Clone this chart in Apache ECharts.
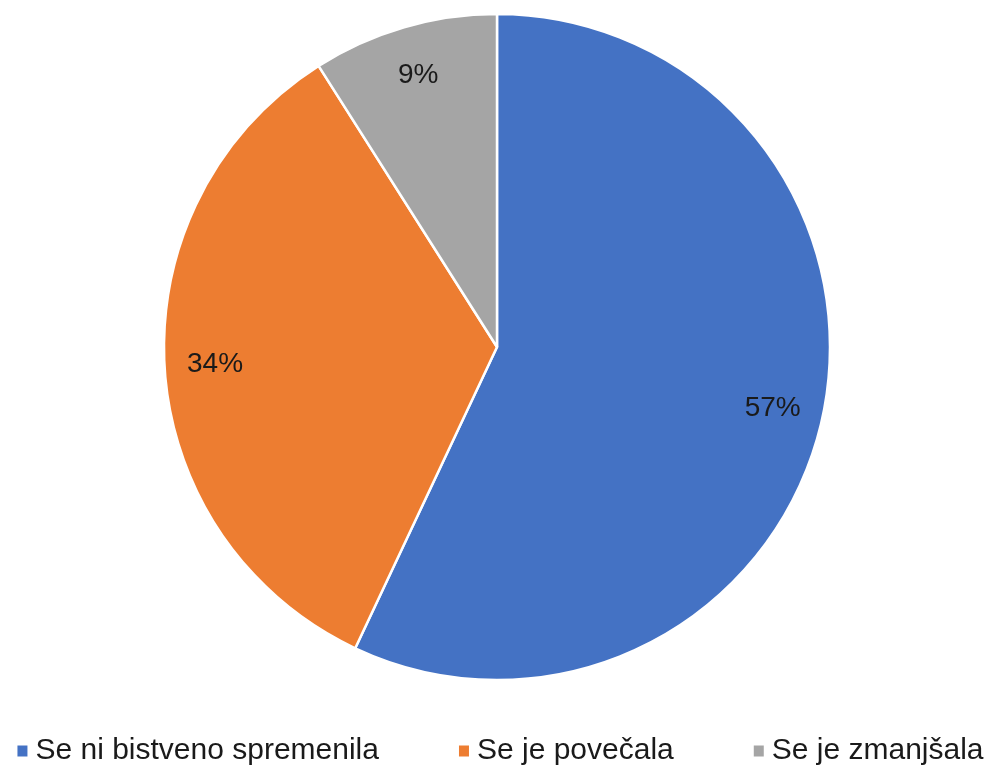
<!DOCTYPE html>
<html><head><meta charset="utf-8">
<script src="https://cdn.jsdelivr.net/npm/echarts@6/dist/echarts.min.js"></script>
<style>html,body{margin:0;padding:0;background:#fff}#c{width:999px;height:767px}</style>
</head><body><div id="c"></div>
<script>
const categories = ['Se ni bistveno spremenila', 'Se je povečala', 'Se je zmanjšala'];
const values = [57, 34, 9];
const colors = ['#4472C4', '#ED7D31', '#A5A5A5'];
const font = '"Liberation Sans", Arial, sans-serif';
const chart = echarts.init(document.getElementById('c'));
const data = categories.map((n, i) => ({ name: n, value: values[i] }));
chart.setOption({
  animation: false,
  color: colors,
  legend: {
    top: 731, left: 'center', itemWidth: 12, itemHeight: 13, itemGap: 78, icon: 'rect',
    textStyle: { fontFamily: font, fontSize: 30, color: '#1a1a1a', padding: [0, 0, 0, 2] },
    data: categories
  },
  series: [{
    type: 'pie', center: [497, 347], radius: [0, 333], startAngle: 90, clockwise: true,
    data: data,
    itemStyle: { borderColor: '#fff', borderWidth: 2.5 },
    label: { show: false }, labelLine: { show: false }
  }, {
    type: 'pie', center: [497, 347], radius: [226, 333], startAngle: 90, clockwise: true,
    data: data, silent: true,
    itemStyle: { color: 'transparent' },
    label: { show: true, position: 'inside', formatter: '{d}%', fontFamily: font, fontSize: 28, color: '#1a1a1a' },
    labelLine: { show: false }
  }]
});
</script></body></html>
